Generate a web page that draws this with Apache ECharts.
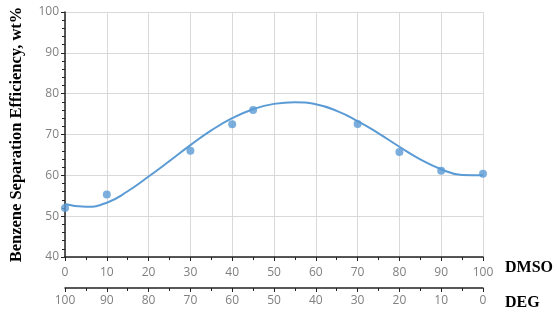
<!DOCTYPE html>
<html>
<head>
<meta charset="utf-8">
<script src="https://cdn.jsdelivr.net/npm/echarts@6/dist/echarts.min.js"></script>
<style>html,body{margin:0;padding:0;background:#fff;}#c{width:559px;height:313px;}</style>
</head>
<body>
<div id="c"></div>
<script>
// measured points (DMSO wt%, efficiency)
var pointX = [0, 10, 30, 40, 45, 70, 80, 90, 100];
var pointY = [52.0, 55.3, 66.0, 72.5, 76.0, 72.6, 65.7, 61.1, 60.4];
// trend curve
var curveX = [0, 5, 10, 15, 20, 25, 30, 35, 40, 45, 50, 55, 60, 65, 70, 75, 80, 85, 90, 95, 100];
var curveY = [53.0, 52.3, 53.3, 56.1, 59.7, 63.5, 67.4, 71.0, 74.0, 76.2, 77.5, 77.9, 77.4, 75.8, 73.3, 70.3, 67.0, 63.9, 61.5, 60.1, 60.0];
var yTitle = 'Benzene Separation Efficiency, wt%';
var axis1Name = 'DMSO';
var axis2Name = 'DEG';

var chart = echarts.init(document.getElementById('c'), null, {renderer: 'canvas'});
var labelStyle = {color: '#808080', fontSize: 12, fontFamily: 'Open Sans'};
var lineCol = '#5b9bd5';
chart.setOption({
  animation: false,
  grid: {left: 62, right: 76, top: 12, bottom: 56},
  xAxis: [{
    type: 'value', min: 0, max: 100, interval: 10, position: 'bottom',
    axisLine: {show: true, onZero: false, lineStyle: {color: '#222', width: 1.5}},
    axisTick: {show: true, length: 4, lineStyle: {color: '#222'}},
    minorTick: {show: true, splitNumber: 2, length: 3, lineStyle: {color: '#222'}},
    splitLine: {show: true, lineStyle: {color: '#d9d9d9'}},
    axisLabel: Object.assign({margin: 10}, labelStyle)
  }, {
    type: 'value', min: 0, max: 100, interval: 10, position: 'bottom', offset: 31, inverse: true,
    axisLine: {show: true, onZero: false, lineStyle: {color: '#222', width: 1.5}},
    axisTick: {show: true, length: 4, lineStyle: {color: '#222'}},
    minorTick: {show: true, splitNumber: 2, length: 3, lineStyle: {color: '#222'}},
    splitLine: {show: false},
    axisLabel: Object.assign({margin: 7}, labelStyle)
  }],
  yAxis: {
    type: 'value', min: 40, max: 100, interval: 10,
    name: yTitle, nameLocation: 'middle', nameGap: 40,
    nameTextStyle: {fontFamily: 'Liberation Serif', fontWeight: 'bold', fontSize: 16.5, color: '#000'},
    axisLine: {show: true, lineStyle: {color: '#222', width: 1.5}},
    axisTick: {show: true, length: 4, lineStyle: {color: '#222'}},
    minorTick: {show: true, splitNumber: 5, length: 3, lineStyle: {color: '#222'}},
    splitLine: {show: true, lineStyle: {color: '#d9d9d9'}},
    axisLabel: Object.assign({margin: 6}, labelStyle)
  },
  graphic: [
    {type: 'text', left: 505, top: 260, style: {text: axis1Name, font: 'bold 16px "Liberation Serif"', fill: '#000'}},
    {type: 'text', left: 505, top: 295, style: {text: axis2Name, font: 'bold 16px "Liberation Serif"', fill: '#000'}}
  ],
  series: [{
    type: 'line', xAxisIndex: 0,
    data: curveX.map(function (x, i) { return [x, curveY[i]]; }),
    smooth: true, showSymbol: false,
    lineStyle: {color: lineCol, width: 2}
  }, {
    type: 'scatter', xAxisIndex: 0,
    data: pointX.map(function (x, i) { return [x, pointY[i]]; }),
    symbolSize: 8, itemStyle: {color: lineCol}
  }]
});
</script>
</body>
</html>
